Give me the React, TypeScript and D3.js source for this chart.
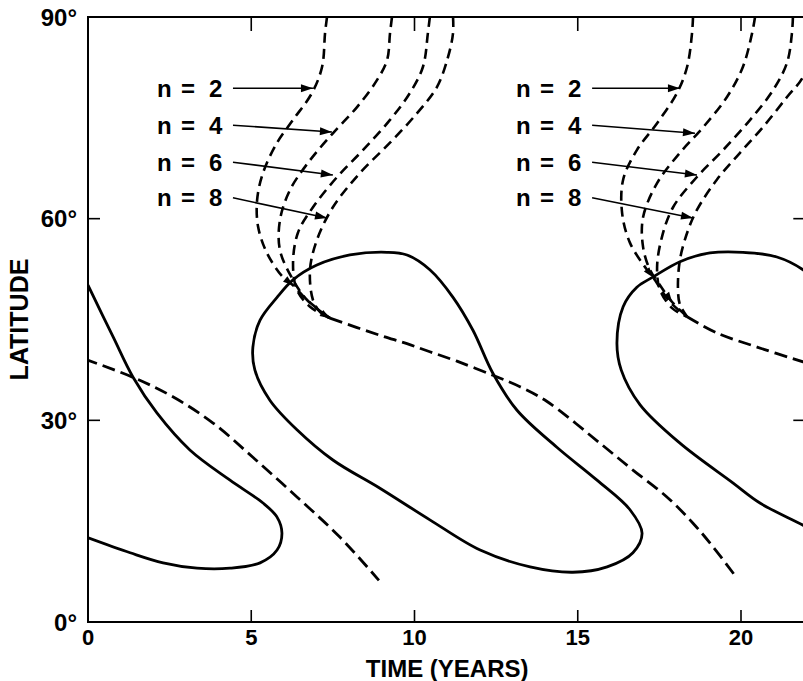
import React from 'react';
import * as d3 from 'd3';

type P = [number, number];

const W = 803;
const H = 681;

// axes
const xDomain: P = [0, 22];
const yDomain: P = [0, 90];
const xTickValues = [0, 5, 10, 15, 20];
const xInnerTicks = [5, 10, 15, 20];
const yTickValues = [0, 30, 60, 90];
const yInnerTicks = [30, 60];
const xTitle = 'TIME (YEARS)';
const yTitle = 'LATITUDE';

// solid contours [years, latitude]
const solidLeft: P[] = [
  [0.0, 50.1], [0.77, 42.4], [1.38, 36.4], [2.11, 31.1], [3.12, 25.6], [4.35, 21.1],
  [5.36, 17.7], [5.79, 15.6], [5.94, 13.2], [5.79, 10.7], [5.27, 8.8], [4.35, 8.0],
  [3.34, 8.0], [2.3, 8.8], [1.29, 10.3], [-0.1, 12.7],
];
const solidMiddle: P[] = [
  [5.05, 40.9], [5.27, 44.9], [5.79, 48.3], [6.28, 50.9], [7.01, 53.1], [8.02, 54.6],
  [9.16, 55.0], [9.77, 54.6], [10.47, 52.4], [11.18, 48.3], [11.79, 43.4], [12.4, 37.0],
  [13.14, 31.5], [14.36, 26.0], [15.59, 21.1], [16.6, 16.7], [16.97, 13.2], [16.69, 10.3],
  [15.9, 8.2], [14.85, 7.4], [13.54, 8.2], [12.01, 10.7], [10.47, 15.2], [8.94, 19.9],
  [7.5, 24.1], [6.4, 28.6], [5.57, 33.0], [5.11, 37.5],
];
const solidRight: P[] = [
  [22.73, 12.2], [21.9, 14.4], [20.58, 17.7], [19.75, 20.7], [18.13, 26.6], [16.91, 32.3],
  [16.33, 37.5], [16.2, 41.5], [16.39, 46.9], [16.81, 49.8], [17.3, 51.3], [18.13, 53.6],
  [19.05, 54.9], [20.06, 55.0], [21.1, 54.3], [21.9, 52.4], [22.57, 49.4],
];

// dashed trunks
const dashLeft: P[] = [
  [-0.1, 39.1], [1.38, 36.4], [2.6, 33.5], [3.83, 29.6], [5.05, 24.5], [6.4, 18.6],
  [7.72, 12.6], [8.91, 6.2],
];
const dashMiddle: P[] = [
  [7.41, 45.2], [8.24, 43.8], [9.04, 42.5], [9.77, 41.4], [10.47, 40.2], [11.3, 38.8],
  [12.4, 36.7], [13.23, 35.0], [14.06, 32.8], [15.68, 26.6], [16.69, 22.6], [17.73, 18.6],
  [18.53, 14.7], [19.14, 11.2], [19.88, 6.5],
];
const dashRight: P[] = [
  [18.35, 45.4], [19.26, 43.0], [20.49, 40.9], [21.9, 38.7], [22.73, 37.5],
];

// n-branches, first cycle
const branch1n2: P[] = [
  [7.32, 90], [7.26, 87.6], [7.17, 82.6], [6.86, 78.7], [6.28, 74.7], [5.79, 71.3],
  [5.36, 66.8], [5.18, 62.8], [5.21, 58.8], [5.48, 54.9], [5.97, 51.3], [6.28, 50.1],
  [6.71, 47.9], [7.41, 45.2],
];
const branch1n4: P[] = [
  [9.31, 90], [9.25, 87.6], [9.16, 83.6], [8.85, 80.6], [8.24, 76.6], [7.5, 72.7],
  [6.8, 68.7], [6.19, 64.3], [5.88, 59.8], [5.88, 55.3], [6.28, 50.9], [6.71, 47.9],
  [7.41, 45.2],
];
const branch1n6: P[] = [
  [10.47, 90], [10.41, 87.6], [10.26, 82.6], [9.86, 78.7], [9.25, 74.7], [8.42, 70.2],
  [7.63, 66.2], [6.89, 61.7], [6.43, 57.9], [6.28, 53.4], [6.4, 49.4], [6.8, 46.9],
  [7.41, 45.2],
];
const branch1n8: P[] = [
  [11.18, 90], [11.18, 87.6], [11.03, 84.1], [10.69, 79.6], [10.08, 75.7], [9.25, 71.3],
  [8.33, 66.8], [7.5, 61.7], [7.01, 56.8], [6.8, 52.4], [6.89, 47.9], [7.11, 46.1],
  [7.41, 45.2],
];
// n-branches, second cycle
const branch2n2: P[] = [
  [18.53, 90], [18.5, 87.6], [18.35, 82.6], [18.04, 78.7], [17.43, 74.2], [16.81, 70.2],
  [16.39, 65.8], [16.36, 60.8], [16.6, 56.4], [17.12, 52.4], [17.3, 51.3], [17.83, 47.6],
  [18.35, 45.4],
];
const branch2n4: P[] = [
  [20.43, 90], [20.34, 87.6], [20.06, 82.6], [19.57, 78.1], [18.84, 73.6], [18.13, 69.8],
  [17.43, 65.3], [17.0, 60.2], [17.0, 55.8], [17.21, 52.4], [17.52, 50.1], [17.89, 47.6],
  [18.35, 45.4],
];
const branch2n6: P[] = [
  [21.59, 90], [21.56, 87.6], [21.41, 83.2], [20.98, 79.1], [20.28, 74.7], [19.45, 70.2],
  [18.65, 66.2], [17.92, 61.7], [17.58, 57.3], [17.43, 52.8], [17.52, 49.4], [17.89, 46.7],
  [18.35, 45.4],
];
const branch2n8: P[] = [
  [22.42, 90], [22.27, 86.6], [21.9, 81.1], [21.41, 78.1], [20.67, 73.6], [19.97, 69.8],
  [19.26, 65.8], [18.65, 61.3], [18.38, 58.3], [18.13, 53.9], [18.07, 49.4], [18.13, 47.2],
  [18.35, 45.4],
];

// labels and pointer arrows
const nValues = [2, 4, 6, 8];
const labelLat = [79.4, 73.9, 68.4, 63.1];
const arrowTail1 = 4.44;
const arrowTail2 = 15.44;
const arrowTips1: P[] = [[6.89, 79.4], [7.47, 72.9], [7.5, 66.5], [7.32, 60.1]];
const arrowTips2: P[] = [[18.13, 79.4], [18.59, 72.7], [18.65, 66.5], [18.53, 60.1]];

const FONT = "'Liberation Sans', Arial, Helvetica, sans-serif";

export default function App() {
  const x = d3.scaleLinear().domain(xDomain).range([88, 88 + 22 * 32.65]);
  const y = d3.scaleLinear().domain(yDomain).range([622, 17]);
  const x0 = x(xDomain[0]);
  const x1 = x(xDomain[1]);
  const yTop = y(yDomain[1]);
  const yBot = y(yDomain[0]);

  const open = d3
    .line<P>()
    .x((d) => x(d[0]))
    .y((d) => y(d[1]))
    .curve(d3.curveCatmullRom.alpha(0.5));
  const closed = d3
    .line<P>()
    .x((d) => x(d[0]))
    .y((d) => y(d[1]))
    .curve(d3.curveCatmullRomClosed.alpha(0.5));

  const head = (tip: P, from: P, len = 11, half = 4) => {
    const tx = x(tip[0]);
    const ty = y(tip[1]);
    const fx = x(from[0]);
    const fy = y(from[1]);
    const dx = tx - fx;
    const dy = ty - fy;
    const L = Math.hypot(dx, dy) || 1;
    const ux = dx / L;
    const uy = dy / L;
    const bx = tx - ux * len;
    const by = ty - uy * len;
    return `${tx},${ty} ${bx - uy * half},${by + ux * half} ${bx + uy * half},${by - ux * half}`;
  };

  const branches1 = [branch1n2, branch1n4, branch1n6, branch1n8];
  const branches2 = [branch2n2, branch2n4, branch2n6, branch2n8];

  const labelGroup = (tail: number, tips: P[], key: string) =>
    nValues.map((n, i) => {
      const tx = x(tail);
      const ly = y(labelLat[i]);
      return (
        <g key={key + n}>
          <text
            y={ly}
            dy="0.36em"
            fontFamily={FONT}
            fontWeight="bold"
            fontSize={24}
            fill="#000"
          >
            <tspan x={tx - 76}>n</tspan>
            <tspan x={tx - 52}>=</tspan>
            <tspan x={tx - 24}>{n}</tspan>
          </text>
          <line
            x1={tx}
            y1={ly}
            x2={x(tips[i][0])}
            y2={y(tips[i][1])}
            stroke="#000"
            strokeWidth={1.6}
          />
          <polygon points={head(tips[i], [tail, labelLat[i]], 12, 4)} fill="#000" />
        </g>
      );
    });

  return (
    <svg
      width={W}
      height={H}
      viewBox={`0 0 ${W} ${H}`}
      style={{ position: 'absolute', left: 0, top: 0, background: '#fff' }}
    >
      <defs>
        <clipPath id="plot">
          <rect x={x0} y={yTop} width={x1 - x0} height={yBot - yTop} />
        </clipPath>
      </defs>
      <rect x={0} y={0} width={W} height={H} fill="#fff" />

      <g clipPath="url(#plot)" fill="none" stroke="#000" strokeLinejoin="round">
        <path d={open(solidLeft) || ''} strokeWidth={2.8} />
        <path d={closed(solidMiddle) || ''} strokeWidth={2.8} />
        <path d={open(solidRight) || ''} strokeWidth={2.8} />

        <path d={open(dashLeft) || ''} strokeWidth={2.8} strokeDasharray="13 6" />
        <path d={open(dashMiddle) || ''} strokeWidth={2.8} strokeDasharray="13 6" />
        <path d={open(dashRight) || ''} strokeWidth={2.8} strokeDasharray="13 6" />

        {branches1.concat(branches2).map((b, i) => (
          <path key={'b' + i} d={open(b) || ''} strokeWidth={2.6} strokeDasharray="10 6" />
        ))}
      </g>

      <g clipPath="url(#plot)" fill="#000">
        <polygon points={head(branch1n2[11], branch1n2[10], 10, 3.5)} />
        <polygon points={head(branch1n8[12], branch1n8[11], 10, 3.5)} />
        <polygon points={head(branch2n2[10], branch2n2[9], 10, 3.5)} />
        <polygon points={head(branch2n4[11], branch2n4[10], 10, 3.5)} />
      </g>

      {labelGroup(arrowTail1, arrowTips1, 'a')}
      {labelGroup(arrowTail2, arrowTips2, 'b')}

      {/* frame */}
      <rect
        x={x0}
        y={yTop}
        width={x1 - x0}
        height={yBot - yTop}
        fill="none"
        stroke="#000"
        strokeWidth={2}
      />
      {xInnerTicks.map((t) => (
        <g key={'xt' + t} stroke="#000" strokeWidth={1.6}>
          <line x1={x(t)} x2={x(t)} y1={yBot} y2={yBot - 12} />
          <line x1={x(t)} x2={x(t)} y1={yTop} y2={yTop + 14} />
        </g>
      ))}
      {yInnerTicks.map((t) => (
        <g key={'yt' + t} stroke="#000" strokeWidth={1.6}>
          <line x1={x0} x2={x0 + 12} y1={y(t)} y2={y(t)} />
          <line x1={x1} x2={x1 - 13} y1={y(t)} y2={y(t)} />
        </g>
      ))}

      {xTickValues.map((t) => (
        <text
          key={'xl' + t}
          x={x(t)}
          y={yBot + 15}
          dy="0.36em"
          textAnchor="middle"
          fontFamily={FONT}
          fontWeight="bold"
          fontSize={22}
        >
          {t}
        </text>
      ))}
      {yTickValues.map((t) => (
        <text
          key={'yl' + t}
          x={x0 - 11}
          y={y(t)}
          dy="0.36em"
          textAnchor="end"
          fontFamily={FONT}
          fontWeight="bold"
          fontSize={24}
        >
          {t}°
        </text>
      ))}

      <text
        x={(x0 + x1) / 2}
        y={677}
        textAnchor="middle"
        fontFamily={FONT}
        fontWeight="bold"
        fontSize={24}
      >
        {xTitle}
      </text>
      <text
        transform={`translate(28, ${(yTop + yBot) / 2}) rotate(-90)`}
        textAnchor="middle"
        fontFamily={FONT}
        fontWeight="bold"
        fontSize={25}
      >
        {yTitle}
      </text>
    </svg>
  );
}
